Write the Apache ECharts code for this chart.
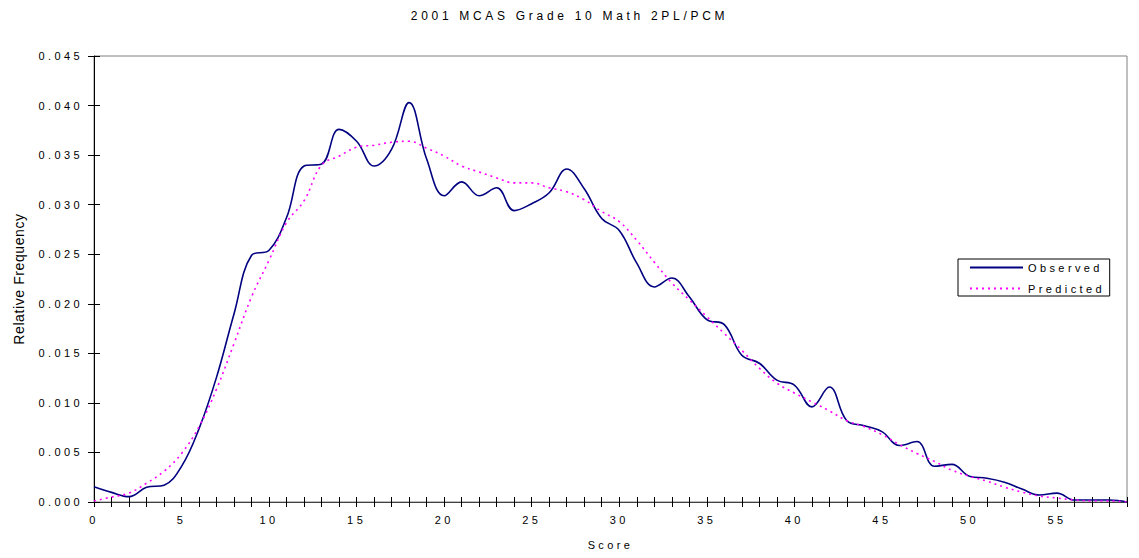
<!DOCTYPE html>
<html>
<head>
<meta charset="utf-8">
<script src="https://cdn.jsdelivr.net/npm/echarts@6/dist/echarts.min.js"></script>
<style>
html,body{margin:0;padding:0;background:#fff;}
#chart{width:1139px;height:558px;}
#chart text{letter-spacing:3.4px;}
#chart text.nospace{letter-spacing:0.6px;}
#chart text.titlesp{letter-spacing:3.7px;}
</style>
</head>
<body>
<div id="chart"></div>
<script>
const titleText = '2001 MCAS Grade 10 Math 2PL/PCM';
const xName = 'Score';
const yName = 'Relative Frequency';
const scores = Array.from({length: 60}, (_, i) => String(i));
const observed = [0.00154,0.00097,0.00054,0.00148,0.0017,0.0036,0.0074,0.0126,0.0190,0.0249,
  0.0254,0.0287,0.0339,0.0341,0.0376,0.0364,0.0339,0.0356,0.0403,0.0346,
  0.0309,0.0323,0.0309,0.0317,0.0294,0.0301,0.0312,0.0336,0.0316,0.0286,
  0.0274,0.0241,0.0217,0.0226,0.0207,0.0184,0.0179,0.0148,0.0140,0.0123,
  0.0118,0.0096,0.0116,0.0082,0.0077,0.0071,0.0057,0.0061,0.0036,0.0038,
  0.0026,0.0024,0.0020,0.0013,0.0007,0.0009,0.0002,0.0002,0.0002,0.0000];
const predicted = [0.0001,0.0005,0.0009,0.0019,0.0031,0.0049,0.0076,0.0114,0.0160,0.0207,
  0.0244,0.0282,0.0304,0.0340,0.0349,0.0358,0.0360,0.0363,0.0364,0.0357,
  0.0349,0.0339,0.0333,0.0327,0.0322,0.0322,0.0317,0.0313,0.0305,0.0293,
  0.0283,0.0264,0.0242,0.0221,0.0204,0.0187,0.0170,0.0153,0.0135,0.0120,
  0.0110,0.0101,0.0092,0.0082,0.0076,0.0068,0.0058,0.0049,0.0041,0.0032,
  0.0026,0.0021,0.0015,0.0010,0.0006,0.0004,0.0002,0.0001,0.0001,0.0000];

const FONT = 'Liberation Sans';
const chart = echarts.init(document.getElementById('chart'), null, {renderer: 'svg'});
chart.setOption({
  animation: false,
  backgroundColor: '#fff',
  textStyle: {fontFamily: FONT},
  title: {
    text: titleText, left: 'center', top: 5,
    textStyle: {fontSize: 12, fontWeight: 'normal', color: '#000', fontFamily: FONT}
  },
  legend: {
    orient: 'vertical', left: 958, top: 259,
    padding: [3, 34, 2, 11], itemGap: 10,
    itemWidth: 53, itemHeight: 10,
    borderColor: '#000', borderWidth: 1, backgroundColor: '#fff',
    itemStyle: {opacity: 0},
    textStyle: {fontSize: 11, color: '#000', fontFamily: FONT},
    data: ['Observed', 'Predicted']
  },
  grid: {
    left: 94, right: 12, top: 56, bottom: 56,
    show: true, borderColor: '#808080', borderWidth: 1, backgroundColor: 'transparent'
  },
  xAxis: [{
    type: 'category', data: scores, boundaryGap: false, position: 'bottom',
    name: xName, nameLocation: 'middle', nameGap: 37,
    nameTextStyle: {fontSize: 11, color: '#000', fontFamily: FONT},
    axisLine: {lineStyle: {color: '#404040', width: 1}},
    axisTick: {show: true, interval: 0, length: 5, lineStyle: {color: '#000'}},
    axisLabel: {interval: 4, fontSize: 11, color: '#000', margin: 12, fontFamily: FONT},
    splitLine: {show: false}
  }, {
    type: 'category', data: scores, boundaryGap: false, position: 'bottom',
    axisLine: {show: false},
    axisTick: {show: true, inside: true, interval: 0, length: 5, lineStyle: {color: '#000'}},
    axisLabel: {show: false}, splitLine: {show: false}
  }],
  yAxis: [{
    type: 'value', min: 0, max: 0.045, interval: 0.005, position: 'left',
    name: yName, nameLocation: 'middle', nameGap: 68, nameRotate: 90,
    nameTextStyle: {fontSize: 14, color: '#000', fontFamily: FONT},
    axisLine: {show: true, lineStyle: {color: '#000', width: 1}},
    axisTick: {show: true, length: 6, lineStyle: {color: '#000'}},
    axisLabel: {fontSize: 11, color: '#000', margin: 11, fontFamily: FONT,
      formatter: v => v.toFixed(3)},
    splitLine: {show: false}
  }, {
    type: 'value', min: 0, max: 0.045, interval: 0.005, position: 'left',
    axisLine: {show: false},
    axisTick: {show: true, inside: true, length: 6, lineStyle: {color: '#000'}},
    axisLabel: {show: false}, splitLine: {show: false}
  }],
  series: [{
    name: 'Observed', type: 'line', data: observed, xAxisIndex: 0, yAxisIndex: 0,
    smooth: 0.4, symbol: 'none', showSymbol: false,
    lineStyle: {color: '#000080', width: 1.6, type: 'solid'},
    itemStyle: {color: '#000080'}
  }, {
    name: 'Predicted', type: 'line', data: predicted, xAxisIndex: 0, yAxisIndex: 0,
    smooth: 0.4, symbol: 'none', showSymbol: false,
    lineStyle: {color: '#FF00FF', width: 1.6, type: [2, 4]},
    itemStyle: {color: '#FF00FF'}
  }]
});
function fixText() {
  document.querySelectorAll('#chart text').forEach(t => {
    if (t.textContent === yName) t.classList.add('nospace');
    if (t.textContent === titleText) t.classList.add('titlesp');
  });
}
chart.on('finished', fixText);
fixText();
setTimeout(fixText, 0);
setTimeout(fixText, 50);
requestAnimationFrame(fixText);
</script>
</body>
</html>
